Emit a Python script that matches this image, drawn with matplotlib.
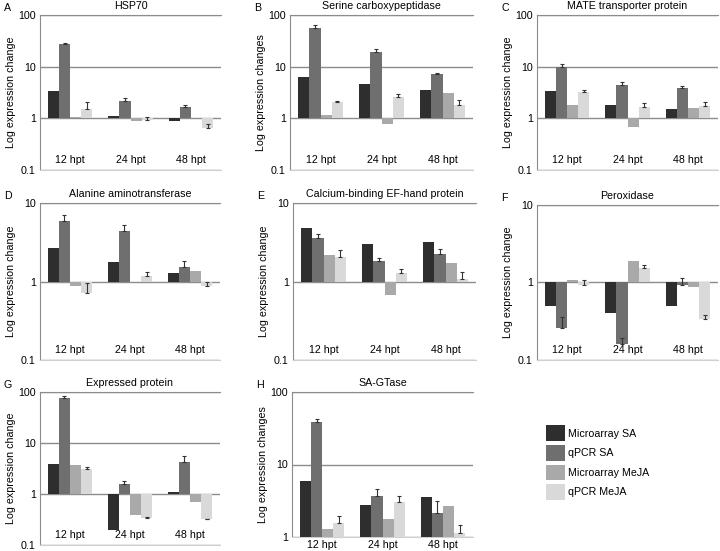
import numpy as np
import matplotlib
matplotlib.use('Agg')
import matplotlib.pyplot as plt
from matplotlib.patches import Patch
from matplotlib import font_manager

names = set(f.name for f in font_manager.fontManager.ttflist)
fam = 'Liberation Sans Narrow' if 'Liberation Sans Narrow' in names else 'Liberation Sans'
plt.rcParams['font.family'] = [fam, 'DejaVu Sans']
fs = 9 if fam == 'Liberation Sans Narrow' else 7.7
plt.rcParams['font.size'] = fs

# series order: Microarray SA, qPCR SA, Microarray MeJA, qPCR MeJA
series = ['Microarray SA', 'qPCR SA', 'Microarray MeJA', 'qPCR MeJA']
colors = ['#2e2e2e', '#6f6f6f', '#a9a9a9', '#d9d9d9']
times = ['12 hpt', '24 hpt', '48 hpt']

# values per time point (rows: 12, 24, 48 hpt), fold change; errors as + amount
hsp70 = [[3.4, 27.5, 1.05, 1.54], [1.09, 2.2, 0.87, 0.94], [0.88, 1.68, 1.0, 0.66]]
hsp70_err = [[0, 1.2, 0, 0.5], [0, 0.27, 0, 0.1], [0, 0.1, 0, 0.1]]
serine = [[6.4, 57, 1.16, 2.11], [4.6, 19.5, 0.76, 2.6], [3.5, 7.3, 3.16, 1.85]]
serine_err = [[0, 6, 0, 0.06], [0, 2.3, 0, 0.3], [0, 0.2, 0, 0.4]]
mate = [[3.38, 10.0, 1.79, 3.23], [1.79, 4.35, 0.68, 1.68], [1.49, 3.8, 1.61, 1.7]]
mate_err = [[0, 1.1, 0, 0.35], [0, 0.7, 0, 0.27], [0, 0.4, 0, 0.4]]
alanine = [[2.64, 5.95, 0.87, 0.71], [1.77, 4.43, 1.0, 1.18], [1.28, 1.54, 1.37, 0.87]]
alanine_err = [[0, 1.0, 0, 0.26], [0, 0.87, 0, 0.16], [0, 0.3, 0, 0.13]]
calcium = [[4.84, 3.61, 2.17, 2.08], [3.0, 1.8, 0.68, 1.29], [3.15, 2.26, 1.7, 1.08]]
calcium_err = [[0, 0.4, 0, 0.41], [0, 0.17, 0, 0.15], [0, 0.3, 0, 0.25]]
perox = [[0.5, 0.26, 1.09, 0.92], [0.40, 0.163, 1.87, 1.55], [0.5, 0.93, 0.88, 0.34]]
perox_err = [[0, 0.1, 0, 0.15], [0, 0.027, 0, 0.13], [0, 0.23, 0, 0.04]]
expressed = [[3.93, 76, 3.76, 3.14], [0.2, 1.6, 0.38, 0.34], [1.09, 4.24, 0.69, 0.32]]
expressed_err = [[0, 9, 0, 0.26], [0, 0.23, 0, 0.01], [0, 1.4, 0, 0.01]]
sagtase = [[5.94, 38, 1.28, 1.58], [2.74, 3.69, 1.77, 3.05], [3.57, 2.15, 2.65, 1.13]]
sagtase_err = [[0, 3.9, 0, 0.37], [0, 0.97, 0, 0.6], [0, 0.96, 0, 0.32]]

W, H = 720, 551
fig = plt.figure(figsize=(7.2, 5.51), dpi=100)

def px_axes(l, t, r, b):
    return fig.add_axes([l / W, 1 - b / H, (r - l) / W, (b - t) / H])

# letter, title, ylabel, data, err, ylim, box (l, t, r, b in px)
panels = [
    ('A', 'HSP70', 'Log expression change', hsp70, hsp70_err, (0.1, 100), (40, 15, 221, 170)),
    ('B', 'Serine carboxypeptidase', 'Log expression changes', serine, serine_err, (0.1, 100), (290, 15, 473, 170)),
    ('C', 'MATE transporter protein', 'Log expression change', mate, mate_err, (0.1, 100), (537, 15, 718, 170)),
    ('D', 'Alanine aminotransferase', 'Log expression change', alanine, alanine_err, (0.1, 10), (40, 203, 220, 360)),
    ('E', 'Calcium-binding EF-hand protein', 'Log expression change', calcium, calcium_err, (0.1, 10), (293, 203, 476, 360)),
    ('F', 'Peroxidase', 'Log expression change', perox, perox_err, (0.1, 10), (537, 205, 718, 360)),
    ('G', 'Expressed protein', 'Log expression change', expressed, expressed_err, (0.1, 100), (40, 392, 220, 545)),
    ('H', 'SA-GTase', 'Log expression changes', sagtase, sagtase_err, (1, 100), (292, 392, 473, 537)),
]

bw = 0.185
offs = (np.arange(4) - 1.5) * bw
x = np.arange(3)

for letter, title, ylab, data, err, ylim, box in panels:
    ax = px_axes(*box)
    d = np.array(data)
    e = np.array(err)
    for j in range(4):
        ax.bar(x + offs[j], d[:, j] - 1, bottom=1, width=bw, color=colors[j],
               edgecolor='none', zorder=3)
        for i in range(3):
            if e[i, j] > 0:
                ax.errorbar(x[i] + offs[j], d[i, j], yerr=[[0], [e[i, j]]],
                            fmt='none', ecolor='#333333', elinewidth=0.8,
                            capsize=1.2, capthick=0.8, zorder=4)
    ax.set_yscale('log')
    ax.set_ylim(*ylim)
    ax.set_xlim(-0.5, 2.5)
    ticks = [t for t in [0.1, 1, 10, 100] if ylim[0] <= t <= ylim[1]]
    ax.set_yticks(ticks)
    ax.set_yticklabels(['%g' % t for t in ticks])
    ax.yaxis.set_minor_locator(matplotlib.ticker.NullLocator())
    ax.tick_params(axis='y', length=0, pad=3, labelsize=fs)
    ax.grid(axis='y', color='#8c8c8c', lw=1, zorder=1)
    ax.set_axisbelow(True)
    ax.spines['right'].set_visible(False)
    ax.spines['top'].set_color('#8c8c8c')
    ax.spines['left'].set_color('#8c8c8c')
    ax.spines['bottom'].set_color('#d0d0d0')
    if letter == 'H':
        ax.set_xticks(x)
        ax.set_xticklabels(times, fontsize=fs)
        ax.tick_params(axis='x', length=0, pad=2)
    else:
        ax.set_xticks([])
        for i, t in enumerate(times):
            ax.text(x[i], 0.065, t, transform=ax.get_xaxis_transform(),
                    ha='center', va='center', fontsize=fs)
    ax.set_title(title, fontsize=fs, pad=4)
    ax.set_ylabel(ylab, fontsize=fs)
    l, t, r, b = box
    ax.yaxis.set_label_coords(-24 / (r - l), 0.5)
    fig.text((l - 36) / W, 1 - (t - 7) / H, letter, fontsize=fs, ha='left', va='center')

handles = [Patch(facecolor=c, edgecolor='none') for c in colors]
fig.legend(handles, series, loc='upper left', bbox_to_anchor=(542 / W, 1 - 421 / H),
           frameon=False, fontsize=fs, handlelength=19 / (fs * 100 / 72),
           handleheight=20 / (fs * 100 / 72),
           labelspacing=4 / (fs * 100 / 72), handletextpad=0.25, borderaxespad=0)

fig.savefig('out.png', dpi=100)
